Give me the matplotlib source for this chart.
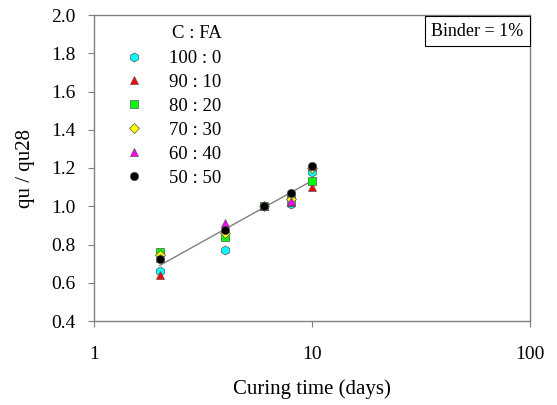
import numpy as np
import matplotlib
matplotlib.use("Agg")
import matplotlib.pyplot as plt

plt.rcParams['font.family'] = ['Liberation Serif', 'DejaVu Serif']

# dias de cura
days = [2, 4, 6, 8, 10]

# qu / qu28 para cada proporção C : FA
mix_labels = ['100 : 0', '90 : 10', '80 : 20', '70 : 30', '60 : 40', '50 : 50']
r100_0 = [0.66, 0.77, 1.00, 1.01, 1.18]
r90_10 = [0.64, 0.85, 1.00, 1.02, 1.10]
r80_20 = [0.76, 0.84, 1.00, 1.05, 1.13]
r70_30 = [0.745, 0.86, 1.00, 1.04, 1.20]
r60_40 = [0.73, 0.91, 1.00, 1.03, 1.21]
r50_50 = [0.725, 0.875, 1.00, 1.07, 1.21]

series = [r100_0, r90_10, r80_20, r70_30, r60_40, r50_50]
colors = ['#00ffff', '#ff0000', '#00ff00', '#ffff00', '#ff00ff', '#000000']
markers = ['h', '^', 's', 'D', '^', 'o']
sizes = [6.5, 6, 5.5, 5.5, 6, 6]

fig = plt.figure(figsize=(5.57, 4.05), dpi=100)
ax = fig.add_axes([94 / 557, 1 - 321 / 405, 436 / 557, 306 / 405])

# linha de tendência (ajuste log-linear em todos os pontos)
xs = np.log10(np.repeat([days], len(series), axis=0).ravel())
ys = np.array(series).ravel()
b, a = np.polyfit(xs, ys, 1)
xfit = np.array([days[0], days[-1]])
ax.plot(xfit, a + b * np.log10(xfit), color='#808080', lw=1.0, zorder=2)

for vals, lab, c, m, s in zip(series, mix_labels, colors, markers, sizes):
    ax.plot(days, vals, linestyle='none', marker=m, ms=s, mfc=c,
            mec='#555555', mew=0.5, label=lab, zorder=3)

ax.set_xscale('log')
ax.set_xlim(1, 100)
ax.set_ylim(0.4, 2.0)
yt = np.arange(0.4, 2.01, 0.2)
ax.set_yticks(yt)
ax.set_yticklabels([f'{v:.1f}' for v in yt])
ax.set_xticks([1, 10, 100])
ax.set_xticklabels(['1', '10', '100'])
ax.xaxis.set_minor_locator(matplotlib.ticker.NullLocator())

for sp in ax.spines.values():
    sp.set_color('#808080')
    sp.set_linewidth(1.0)
ax.tick_params(axis='both', direction='out', length=4, color='#808080',
               labelsize=14)
ax.tick_params(axis='y', pad=9)
ax.tick_params(axis='x', pad=14)

ax.set_xlabel('Curing time (days)', fontsize=15, labelpad=12)
ax.set_ylabel('qu / qu28', fontsize=15, labelpad=12)

ax.text(197 / 557, 1 - 33 / 405, 'C : FA', transform=fig.transFigure,
        ha='center', va='center', fontsize=13.5)
ax.legend(loc='upper left', bbox_to_anchor=(0.053, 0.91),
          frameon=False, fontsize=13.5, handlelength=1.0,
          handletextpad=1.35, labelspacing=0.36, borderaxespad=0)

ax.text(0.985, 0.975, 'Binder = 1%', transform=ax.transAxes, ha='right',
        va='top', fontsize=13,
        bbox=dict(boxstyle='square,pad=0.35', fc='white', ec='#000000', lw=0.8))

fig.savefig('out.png', dpi=100)
